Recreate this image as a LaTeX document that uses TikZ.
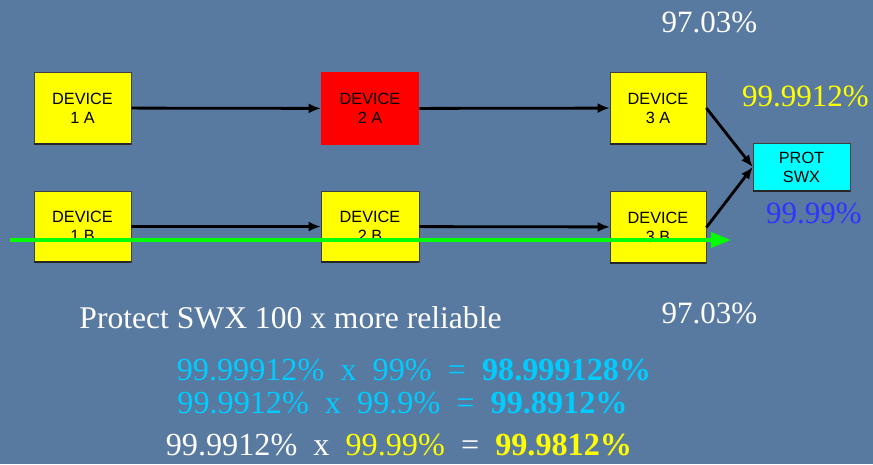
\documentclass[tikz,border=0pt]{standalone}
\usepackage{fontspec}
\setmainfont{Liberation Serif}
\newfontfamily\boxfont{Liberation Sans}
\usetikzlibrary{arrows.meta,calc}
\definecolor{slide}{RGB}{88,121,160}
\definecolor{devyellow}{RGB}{255,255,0}
\definecolor{devred}{RGB}{255,0,0}
\definecolor{swxcyan}{RGB}{0,255,255}
\definecolor{skyline}{RGB}{0,204,255}
\definecolor{swxblue}{RGB}{51,51,255}
\definecolor{hilite}{RGB}{255,255,0}
\definecolor{greenpath}{RGB}{0,255,0}
\tikzstyle{device} = [draw=black!75, line width=0.6pt, fill=devyellow, inner sep=0pt, minimum width=97pt, minimum height=72pt, align=center, font=\boxfont\fontsize{16.3}{19}\selectfont]
\tikzstyle{arrow} = [line width=2.8pt, -{Latex[length=12pt,width=10pt]}]
\tikzstyle{pct} = [font=\fontsize{31}{33}\selectfont, inner sep=0pt]
\tikzstyle{calc} = [font=\fontsize{32.2}{34}\selectfont, inner sep=0pt]
\begin{document}
\begin{tikzpicture}[x=1pt,y=-1pt]
\fill [slide] (0,0) rectangle (873,464);
\useasboundingbox (0,0) rectangle (873,464);
\node (d1a) at (82.5,108) [device] {DEVICE\\1 A};
\node (d2a) at (370,108.5) [device, fill=devred, draw=none, minimum width=98pt, minimum height=73pt] {DEVICE\\2 A};
\node (d3a) at (658,108) [device, minimum width=96pt] {DEVICE\\3 A};
\node (d1b) at (82.5,226.5) [device, minimum height=71pt] {DEVICE\\1 B};
\node (d2b) at (370,226.5) [device, minimum width=98pt, minimum height=71pt] {DEVICE\\2 B};
\node (d3b) at (658,227) [device, minimum width=96pt] {DEVICE\\3 B};
\node (swx) at (801.5,167) [device, fill=swxcyan, minimum height=48pt] {PROT\\SWX};
% thick lower edges
\foreach \n in {d1a,d3a,d1b,d2b,d3b,swx}
  \draw [line width=2pt, black!85] (\n.south west) -- (\n.south east);
\draw [arrow] (d1a) -- (d2a);
\draw [arrow] (d2a) -- (d3a);
\draw [arrow] (d1b) -- (d2b);
\draw [arrow] (d2b) -- (d3b);
\draw [arrow] (d3a.east) -- (swx.west);
\draw [arrow] ($(d3b.east)+(0,0.5)$) -- (swx.west);
% green path
\coordinate (gstart) at (10,240);
\coordinate (gend) at (731,240);
\draw [greenpath, line width=4pt, -{Triangle[length=20pt,width=15pt]}] (gstart) -- (gend);
\node (ptop) at (709.5,22) [pct, white] {97.03\%};
\node (pbot) at (709.5,313) [pct, white] {97.03\%};
\node (ppar) at (805.5,96) [pct, hilite] {99.9912\%};
\node (pswx) at (814,213) [pct, swxblue] {99.99\%};
\node (claim) at (290.5,318) [pct, white, font=\fontsize{31.6}{33}\selectfont] {Protect SWX 100 x more reliable};
\node (eqa) at (414,370) [calc, skyline] {99.99912\%~~x~~99\%~~=~~\textbf{98.999128\%}};
\node (eqb) at (402.5,403) [calc, skyline] {99.9912\%~~x~~99.9\%~~=~~\textbf{99.8912\%}};
\node (eqc) at (399,445) [calc, white] {99.9912\%~~x~~\textcolor{hilite}{99.99\%}~~=~~\textcolor{hilite}{\textbf{99.9812\%}}};
\end{tikzpicture}
\end{document}
